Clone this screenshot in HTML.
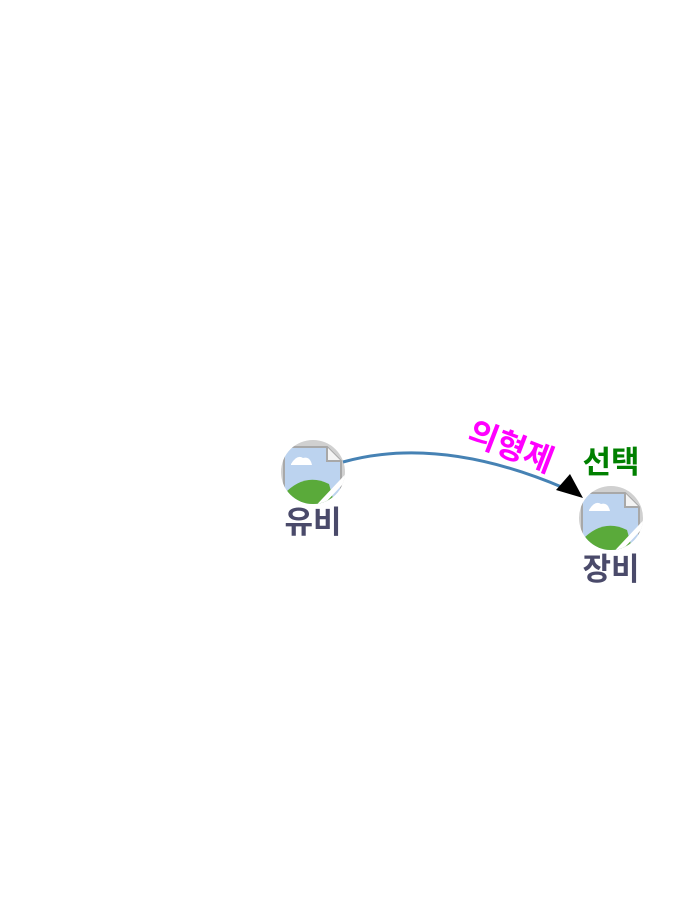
<!DOCTYPE html>
<html><head><meta charset="utf-8"><style>
html,body{margin:0;padding:0;background:#fff;width:690px;height:920px;overflow:hidden}
svg text{font-family:"Liberation Sans","Noto Sans CJK KR","NanumGothic",sans-serif;font-weight:bold}
</style></head><body>
<svg width="690" height="920" viewBox="0 0 690 920" xmlns="http://www.w3.org/2000/svg">
<defs>
<clipPath id="c"><circle cx="0" cy="0" r="32"/></clipPath>
<g id="ic">
<g clip-path="url(#c)">
<rect x="-33" y="-33" width="66" height="66" fill="#d0d0d0"/>
<path d="M-29,-25 L14,-25 L28,-11 L28,34 L-29,34 Z" fill="#bcd3ef" stroke="#a8a8a8" stroke-width="2"/>
<path d="M14,-25 L14,-11 L28,-11" fill="#f4f4f4" stroke="#a8a8a8" stroke-width="2"/>
<path d="M-22,-8 Q-16,-18 -10,-14 Q-3,-16 -1,-7 L-22,-7 Z" fill="#fff"/>
<path d="M-29,34 L-29,22 Q-8,0 16,12 L22,34 Z" fill="#5aaa3a"/>
<path d="M4,36 L36,2" stroke="#fff" stroke-width="5"/>
</g>
</g>
</defs>
<use href="#ic" x="313" y="472"/>
<use href="#ic" x="611" y="518"/>
<path d="M343,462 Q440,435 564,488" fill="none" stroke="#4682b4" stroke-width="3"/>
<polygon points="583,498 556,490 570,474" fill="#000"/>
<text x="313" y="533" font-size="31" fill="#4a4a6a" text-anchor="middle">유비</text>
<text x="611" y="580" font-size="31" fill="#4a4a6a" text-anchor="middle">장비</text>
<text x="611" y="473" font-size="31" fill="#008000" text-anchor="middle">선택</text>
<text x="0" y="0" font-size="32" fill="#ff00ff" text-anchor="middle" transform="translate(507,457) rotate(21)">의형제</text>
</svg>
</body></html>
